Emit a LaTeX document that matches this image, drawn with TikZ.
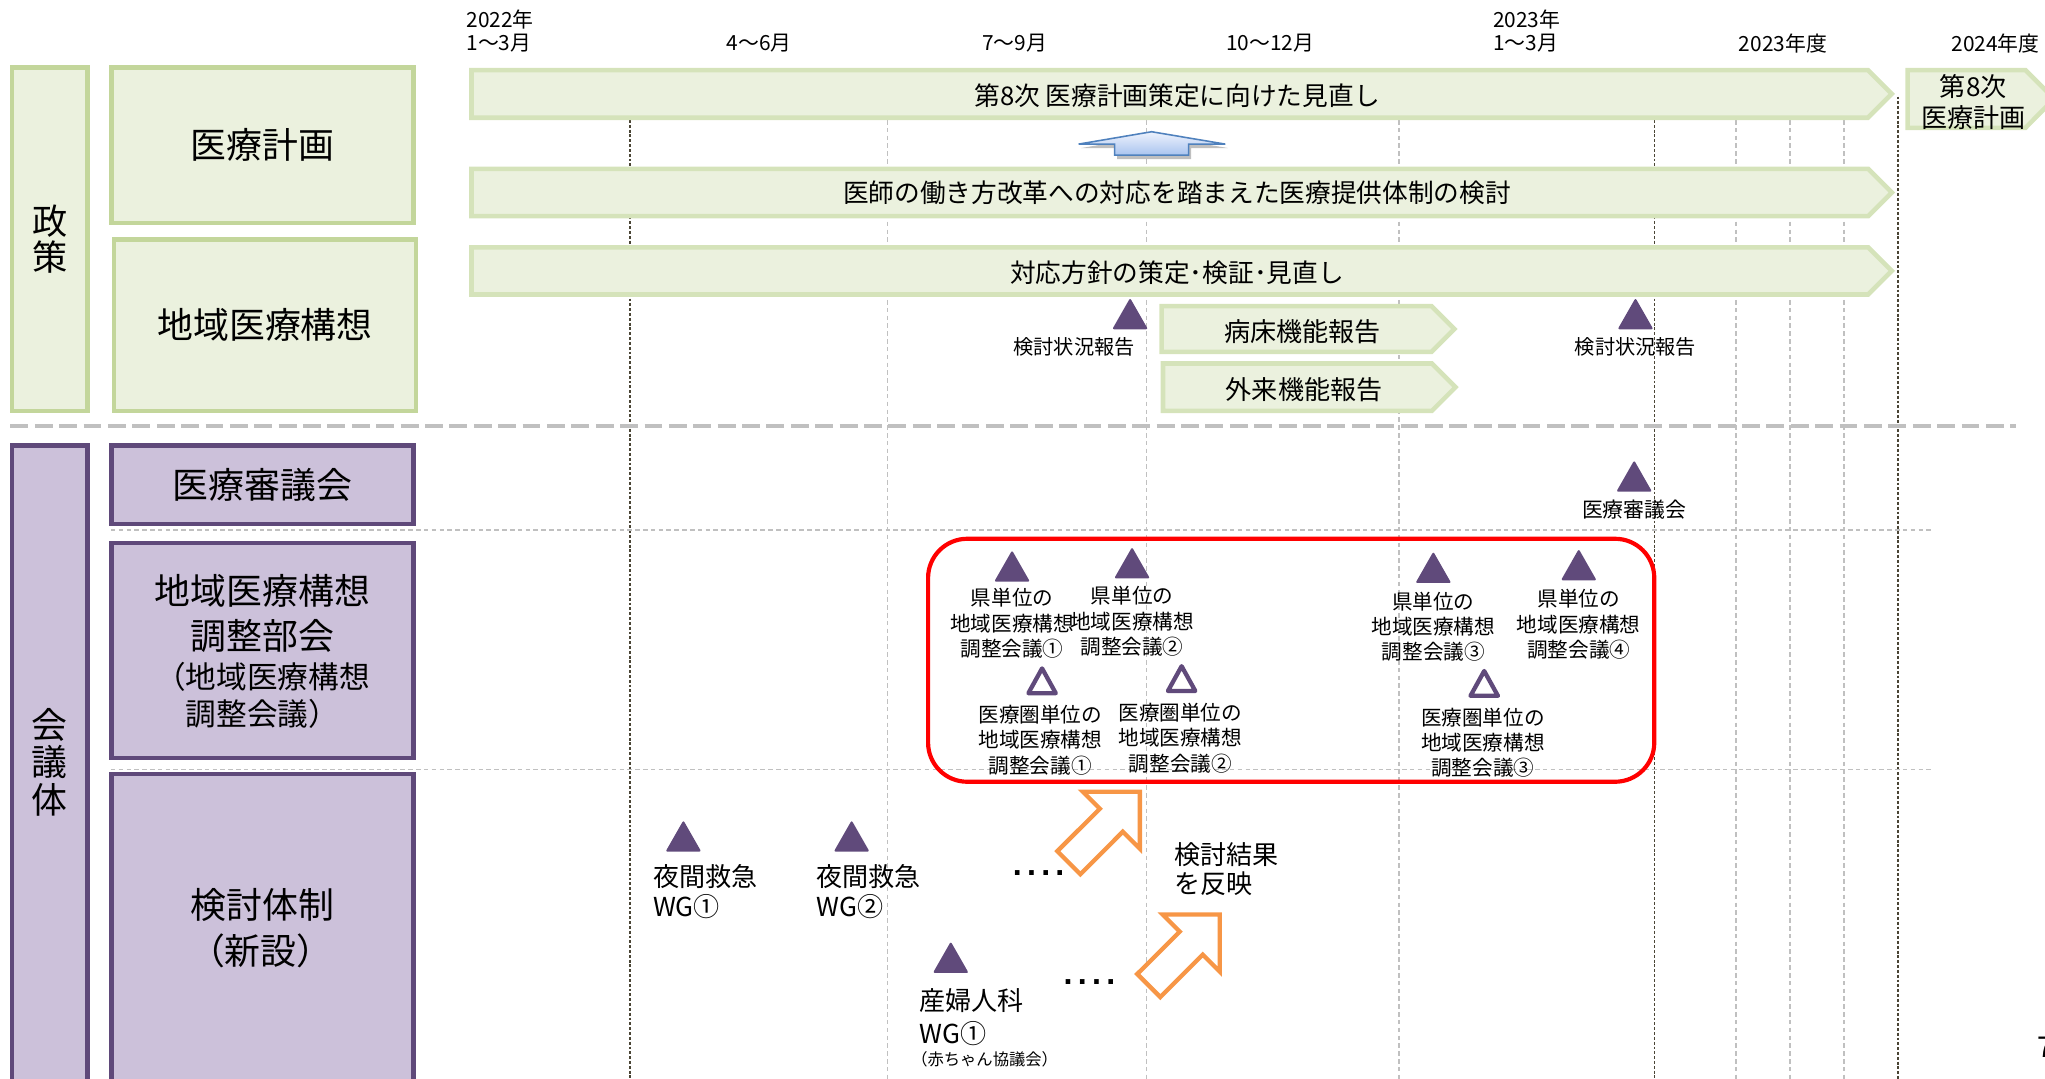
\documentclass[tikz,border=0pt]{standalone}
\usepackage{fontspec}
\setmainfont{Noto Sans CJK JP}
\newfontfamily\dotfont{DejaVu Sans}
\usetikzlibrary{shadows}
\definecolor{gfill}{HTML}{EBF1DE}
\definecolor{gline}{HTML}{C3D69B}
\definecolor{gbarline}{HTML}{D5E3BA}
\definecolor{pfill}{HTML}{CCC1DA}
\definecolor{pline}{HTML}{5F497A}
\definecolor{trif}{HTML}{604A7B}
\definecolor{darkdash}{HTML}{4A4535}
\definecolor{lightdash}{HTML}{C0C0C0}
\definecolor{sepgray}{HTML}{C0C0C0}
\definecolor{oarrow}{HTML}{F79646}
\definecolor{barrowline}{HTML}{4F81BD}
\definecolor{barrowtop}{HTML}{EEF3FD}
\definecolor{barrowbot}{HTML}{A9C4EF}
\newcommand{\myfs}[2]{\fontsize{#1pt}{#2pt}\selectfont}
\newcommand{\mydots}{{\dotfont\bfseries .\hspace{3.3pt}.\hspace{3.3pt}.\hspace{3.3pt}.}}
\begin{document}
\begin{tikzpicture}[x=1pt,y=-1pt,
  gbox/.style={draw=gline, fill=gfill, line width=3.5pt, inner sep=0pt, align=center},
  pbox/.style={draw=pline, fill=pfill, line width=3.5pt, inner sep=0pt, align=center},
  ppath/.style={draw=pline, fill=pfill, line width=3.5pt},
  bar/.style={draw=gbarline, fill=gfill, line width=3.5pt, line join=miter},
  lbl/.style={inner sep=0pt, align=center},
  ddash/.style={draw=darkdash, line width=1.3pt, dash pattern=on 2.2pt off 1.5pt},
  ldash/.style={draw=lightdash, line width=1.2pt, dash pattern=on 3.5pt off 2.5pt},
  hdr/.style={lbl, font=\myfs{16}{19}},
  bigt/.style={lbl, font=\myfs{27.5}{29}},
  bart/.style={lbl, font=\myfs{19.7}{24}},
  smt/.style={lbl, font=\myfs{15.8}{19.5}},
  wgt/.style={lbl, anchor=west, font=\myfs{20}{23}},
  ftri/.pic={\fill[trif, rounded corners=1.5pt] (-13.7,12) -- (0,-12) -- (13.7,12) -- cycle;},
  otri/.pic={\draw[trif, line width=3.3pt, fill=white, line join=round] (-10.5,9.5) -- (0,-9.5) -- (10.5,9.5) -- cycle;},
  oarr/.pic={\draw[oarrow, line width=3.3pt, fill=white] (0,0) -- (0,43.8) -- (-13.1,30.7) -- (-45.6,63.3) -- (-63.3,45.6) -- (-30.7,13.1) -- (-43.8,0) -- cycle;}
]
\useasboundingbox (0,0) rectangle (1568,827.3);

% grid lines
\draw[ddash] (483,92) -- (483,830);
\draw[ldash] (680.5,92) -- (680.5,830);
\draw[ldash] (879,92) -- (879,830);
\draw[ldash] (1072.8,92) -- (1072.8,830);
\draw[ddash] (1268.5,92) -- (1268.5,830);
\draw[ldash] (1331,92) -- (1331,830);
\draw[ldash] (1372.5,92) -- (1372.5,830);
\draw[ldash] (1414,92) -- (1414,830);
\draw[ddash] (1455.5,74) -- (1455.5,830);
\draw[ldash] (85,406.5) -- (1481,406.5);
\draw[ldash] (85,590) -- (1481,590);
\draw[sepgray, line width=3.4pt, dash pattern=on 13.7pt off 5pt] (8,326.5) -- (1546,326.5);

% header
\node[hdr, anchor=west] (y22) at (357.5,14.7) {2022年};
\node[hdr, anchor=west] (q1a) at (357.5,33.2) {1～3月};
\node[hdr] (q2) at (582,33.2) {4～6月};
\node[hdr] (q3) at (778,33.2) {7～9月};
\node[hdr] (q4) at (974,33.2) {10～12月};
\node[hdr, anchor=west] (y23) at (1144.6,14.7) {2023年};
\node[hdr, anchor=west] (q5) at (1144.6,33.2) {1～3月};
\node[hdr] (fy23) at (1367,33.2) {2023年度};
\node[hdr] (fy24) at (1530,33.2) {2024年度};

% left green boxes
\node[gbox, minimum width=58pt, minimum height=263.3pt, font=\myfs{27}{28}] (seisaku) at (38.25,183.4) {政\\策};
\node[gbox, minimum width=231.5pt, minimum height=119.1pt, font=\myfs{27.5}{29}] (keikaku) at (201.3,111.3) {医療計画};
\node[gbox, minimum width=231.7pt, minimum height=131.3pt, font=\myfs{27.5}{29}] (kousou) at (203.2,249.4) {地域医療構想};

% left purple boxes
\path[ppath] (9.25,341.5) rectangle (67.25,840);
\node[bigt] (kaigi) at (38,584.5) {会\\議\\体};
\node[pbox, minimum width=231.5pt, minimum height=60.2pt, font=\myfs{27.5}{29}] (shingi) at (201.3,371.55) {医療審議会};
\node[pbox, minimum width=231.5pt, minimum height=164.7pt] (chosei) at (201.3,498.7) {};
\node[bigt] (c1) at (201.3,453) {地域医療構想};
\node[bigt] (c2) at (201.3,488) {調整部会};
\node[lbl, font=\myfs{23.5}{26}] (c3) at (201.3,518.6) {（地域医療構想};
\node[lbl, font=\myfs{23.5}{26}] (c4) at (201.3,547.6) {調整会議）};
\path[ppath] (85.55,593.55) rectangle (317.05,840);
\node[bigt] (k1) at (201,694) {検討体制};
\node[bigt] (k2) at (200,729) {（新設）};

% timeline bars
\path[bar] (361.5,53.7) -- (1432.2,53.7) -- (1450.5,72) -- (1432.2,90.3) -- (361.5,90.3) -- cycle;
\node[bart] (b1) at (902.5,73.6) {第8次 医療計画策定に向けた見直し};
\path[bar] (361.5,129.5) -- (1432.4,129.5) -- (1450.5,147.6) -- (1432.4,165.7) -- (361.5,165.7) -- cycle;
\node[bart] (b2) at (902.5,148) {医師の働き方改革への対応を踏まえた医療提供体制の検討};
\path[bar] (361.5,189.6) -- (1432.4,189.6) -- (1450.5,207.7) -- (1432.4,225.8) -- (361.5,225.8) -- cycle;
\node[bart] (b3) at (902.5,209.5) {対応方針の策定･検証･見直し};
\path[bar] (890.7,234.7) -- (1097.6,234.7) -- (1115.2,252.25) -- (1097.6,269.8) -- (890.7,269.8) -- cycle;
\node[lbl, font=\myfs{20}{24}] (byo) at (998.5,254.4) {病床機能報告};
\path[bar] (891.7,278.7) -- (1097.8,278.7) -- (1116,296.9) -- (1097.8,315.1) -- (891.7,315.1) -- cycle;
\node[lbl, font=\myfs{20}{24}] (gai) at (999.9,298.5) {外来機能報告};
\path[bar] (1462.7,53.7) -- (1553,53.7) -- (1575,75.85) -- (1553,98) -- (1462.7,98) -- cycle;
\node[lbl, font=\myfs{20}{24}] (dai8) at (1513,78) {第8次\\医療計画};

% blue arrow
\path[draw=barrowline, line width=1.2pt, top color=barrowtop, bottom color=barrowbot,
  drop shadow={shadow xshift=2pt, shadow yshift=-3pt, fill=black, opacity=0.25}]
  (883,101) -- (939.5,110.5) -- (911.3,110.5) -- (911.3,119) -- (854.6,119) -- (854.6,110.5) -- (827,110.5) -- cycle;

% report triangles
\pic at (866.5,240.5) {ftri};
\pic at (1254,240.5) {ftri};
\node[lbl, font=\myfs{15.5}{18}] (ks1) at (823.6,266) {検討状況報告};
\node[lbl, font=\myfs{15.5}{18}] (ks2) at (1254,266) {検討状況報告};
\pic at (1253,365) {ftri};
\node[lbl, font=\myfs{16}{18}] (shl) at (1253,391) {医療審議会};

% red box contents
\draw[red, line width=3.2pt, rounded corners=30pt] (711.6,413.1) rectangle (1268.4,599.4);
\pic at (776,434) {ftri};
\pic at (868,431.5) {ftri};
\pic at (1099,435) {ftri};
\pic at (1210.5,433) {ftri};
\node[smt] (p1) at (776,478) {県単位の\\地域医療構想\\調整会議①};
\node[smt] (p2) at (868,476.5) {県単位の\\地域医療構想\\調整会議②};
\node[smt] (p3) at (1099,480.5) {県単位の\\地域医療構想\\調整会議③};
\node[smt] (p4) at (1210.5,478.8) {県単位の\\地域医療構想\\調整会議④};
\pic at (799,522) {otri};
\pic at (906,520.3) {otri};
\pic at (1138,524) {otri};
\node[smt] (m1) at (797.6,567.3) {医療圏単位の\\地域医療構想\\調整会議①};
\node[smt] (m2) at (905,566) {医療圏単位の\\地域医療構想\\調整会議②};
\node[smt] (m3) at (1137,569.5) {医療圏単位の\\地域医療構想\\調整会議③};

% working groups
\pic at (524,641) {ftri};
\node[wgt] (w1a) at (500.5,672) {夜間救急};
\node[wgt] (w1b) at (500.5,695) {WG①};
\pic at (653,641) {ftri};
\node[wgt] (w2a) at (626,672) {夜間救急};
\node[wgt] (w2b) at (626,695) {WG②};
\node[lbl, anchor=west, font=\myfs{20}{20}] (d1) at (776,669.7) {\mydots};
\pic at (729,734) {ftri};
\node[wgt] (s1) at (704.8,767.4) {産婦人科};
\node[wgt] (s2) at (704.8,792.4) {WG①};
\node[lbl, anchor=west, font=\myfs{12.5}{14}] (s3) at (698.5,812.4) {（赤ちゃん協議会）};
\node[lbl, anchor=west, font=\myfs{20}{20}] (d2) at (815,752.8) {\mydots};
\node[wgt] (r1) at (900,655) {検討結果};
\node[wgt] (r2) at (900,677.4) {を反映};

% orange arrows
\pic at (874,607) {oarr};
\pic at (935.3,701.2) {oarr};

% page number (cut off at the edge, as in the reference)
\node[lbl, anchor=north west, font=\myfs{22}{22}] (pg) at (1562,795) {7};
\end{tikzpicture}
\end{document}
